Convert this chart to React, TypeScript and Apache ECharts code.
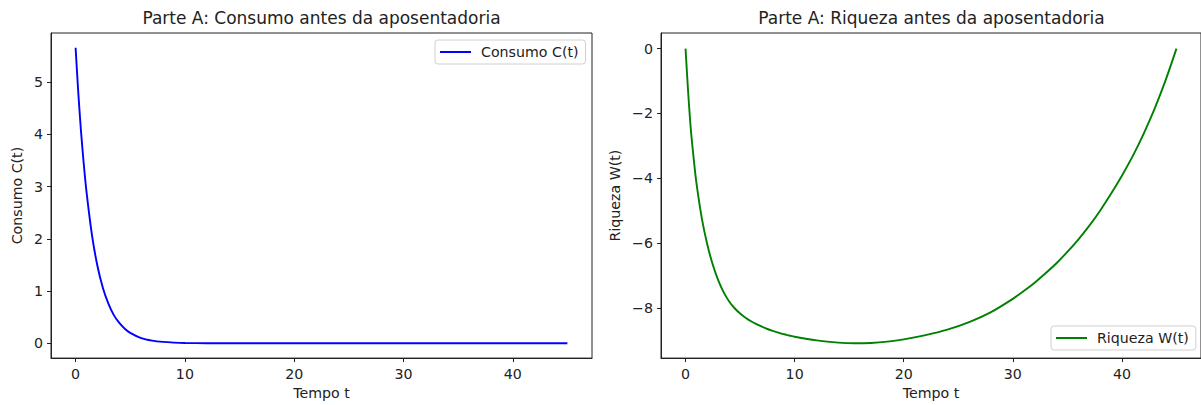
import React, { useEffect, useRef } from "react";
import * as echarts from "echarts";

const tempoC = [0, 0.25, 0.5, 0.75, 1, 1.5, 2, 2.5, 3, 3.5, 4, 4.5, 5, 6, 7, 8, 9, 10, 12, 15, 20, 25, 30, 35, 40, 45];
const consumo = [5.66, 4.79, 4.05, 3.43, 2.9, 2.07, 1.48, 1.06, 0.76, 0.54, 0.39, 0.28, 0.2, 0.1, 0.052, 0.027, 0.014, 0.007, 0.002, 0.0002, 0, 0, 0, 0, 0, 0];

const tempoW = [0, 0.25, 0.5, 0.75, 1, 1.5, 2, 2.5, 3, 3.5, 4, 4.5, 5, 5.5, 6, 6.5, 7, 7.5, 8, 8.5, 9, 9.5, 10, 12, 14, 15.5, 17, 18.5, 20, 22, 24, 26, 28, 30, 31, 32, 33, 34, 35, 36, 37, 38, 39, 40, 41, 42, 43, 44, 45];
const riqueza = [0, -1.4, -2.55, -3.4, -4.15, -5.25, -6.05, -6.67, -7.15, -7.52, -7.8, -8.01, -8.17, -8.3, -8.41, -8.5, -8.58, -8.65, -8.71, -8.76, -8.81, -8.85, -8.89, -9.0, -9.07, -9.09, -9.08, -9.04, -8.97, -8.84, -8.67, -8.44, -8.13, -7.72, -7.48, -7.22, -6.93, -6.62, -6.27, -5.89, -5.47, -5.0, -4.48, -3.92, -3.31, -2.62, -1.85, -0.98, 0];

const xTicks = [0, 10, 20, 30, 40];
const yTicksC = [0, 1, 2, 3, 4, 5];
const yTicksW = [-8, -6, -4, -2, 0];

const FONT = "DejaVu Sans";
const TXT = "#222222";
const FS = 14.2;

export default function App() {
  const ref = useRef<HTMLDivElement>(null);
  useEffect(() => {
    document.body.style.margin = "0";
    const chart = echarts.init(ref.current!, null, { renderer: "svg" });
    const fmt = (v: number) => (v < 0 ? "\u2212" + Math.abs(v) : String(v));
    const label = (vals: number[], margin: number) => ({
      customValues: vals,
      margin,
      fontSize: FS,
      color: TXT,
      fontFamily: FONT,
      formatter: fmt,
    });
    const tick = (vals: number[]) => ({
      show: true,
      customValues: vals,
      length: 4,
      inside: false,
      lineStyle: { color: TXT, width: 1 },
    });
    const nameStyle = { fontSize: FS, color: TXT, fontFamily: FONT };
    const xAxis = (gi: number) => ({
      type: "value",
      gridIndex: gi,
      min: -2.25,
      max: 47.25,
      axisLine: { show: true, onZero: false, lineStyle: { color: TXT, width: 1 } },
      axisTick: tick(xTicks),
      axisLabel: label(xTicks, 9),
      splitLine: { show: false },
      name: "Tempo t",
      nameLocation: "middle",
      nameGap: 27,
      nameTextStyle: nameStyle,
    });
    const legendBase = {
      icon: "rect",
      itemWidth: 31,
      itemHeight: 2,
      padding: [5, 7, 5, 5],
      borderColor: "#d0d0d0",
      borderWidth: 1,
      borderRadius: 3,
      backgroundColor: "rgba(255,255,255,0.8)",
      selectedMode: false,
      textStyle: { fontSize: FS, color: TXT, fontFamily: FONT, padding: [0, 0, 0, 5] },
    };
    const titleStyle = (text: string, x: number) => ({
      type: "text",
      x,
      y: 18,
      style: {
        text,
        textAlign: "center",
        textVerticalAlign: "middle",
        fontSize: 17,
        fontFamily: FONT,
        fill: TXT,
      },
    });
    chart.setOption({
      animation: false,
      backgroundColor: "#fff",
      textStyle: { fontFamily: FONT },
      graphic: [
        titleStyle("Parte A: Consumo antes da aposentadoria", 321.5),
        titleStyle("Parte A: Riqueza antes da aposentadoria", 931.5),
      ],
      grid: [
        { left: 51, top: 33, width: 541, height: 326, show: true, borderColor: TXT, borderWidth: 1, containLabel: false },
        { left: 661, top: 33, width: 541, height: 326, show: true, borderColor: TXT, borderWidth: 1, containLabel: false },
      ],
      xAxis: [xAxis(0), xAxis(1)],
      yAxis: [
        {
          type: "value",
          gridIndex: 0,
          min: -0.283,
          max: 5.943,
          axisLine: { show: true, onZero: false, lineStyle: { color: TXT, width: 1 } },
          axisTick: tick(yTicksC),
          axisLabel: label(yTicksC, 8),
          splitLine: { show: false },
          name: "Consumo C(t)",
          nameLocation: "middle",
          nameGap: 27,
          nameTextStyle: nameStyle,
        },
        {
          type: "value",
          gridIndex: 1,
          min: -9.548,
          max: 0.483,
          axisLine: { show: true, onZero: false, lineStyle: { color: TXT, width: 1 } },
          axisTick: tick(yTicksW),
          axisLabel: label(yTicksW, 8),
          splitLine: { show: false },
          name: "Riqueza W(t)",
          nameLocation: "middle",
          nameGap: 39,
          nameTextStyle: nameStyle,
        },
      ],
      legend: [
        { ...legendBase, data: ["Consumo C(t)"], left: 435, top: 40 },
        { ...legendBase, data: ["Riqueza W(t)"], left: 1051, top: 326 },
      ],
      series: [
        {
          type: "line",
          name: "Consumo C(t)",
          xAxisIndex: 0,
          yAxisIndex: 0,
          data: tempoC.map((t, i) => [t, consumo[i]]),
          showSymbol: false,
          smooth: 0.3,
          color: "#0000ff",
          lineStyle: { color: "#0000ff", width: 1.9 },
        },
        {
          type: "line",
          name: "Riqueza W(t)",
          xAxisIndex: 1,
          yAxisIndex: 1,
          data: tempoW.map((t, i) => [t, riqueza[i]]),
          showSymbol: false,
          smooth: 0.3,
          color: "#008000",
          lineStyle: { color: "#008000", width: 1.9 },
        },
      ],
    });
    return () => chart.dispose();
  }, []);
  return <div ref={ref} style={{ width: 1201, height: 405 }} />;
}
